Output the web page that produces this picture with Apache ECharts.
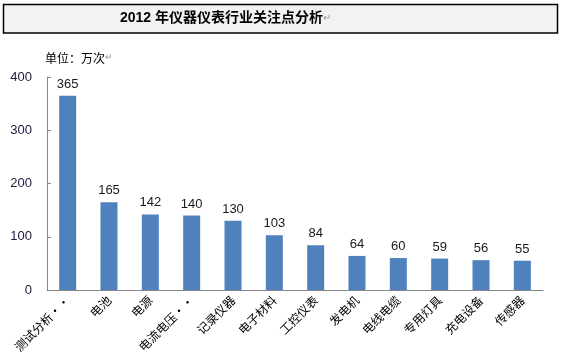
<!DOCTYPE html>
<html><head><meta charset="utf-8">
<script src="https://cdn.jsdelivr.net/npm/echarts@6/dist/echarts.min.js"></script>
<style>html,body{margin:0;padding:0;background:#fff}#c{width:562px;height:357px}</style>
</head><body><div id="c"></div>
<script>
const categories = ['测试分析··','电池','电源','电流电压··','记录仪器','电子材料','工控仪表','发电机','电线电缆','专用灯具','充电设备','传感器'];
const values = [365,165,142,140,130,103,84,64,60,59,56,55];
const yTicks = [0,100,200,300,400];

const chart = echarts.init(document.getElementById('c'));
chart.setOption({
  animation: false,
  textStyle: { fontFamily: '"Liberation Sans", Arial, "Noto Sans CJK SC", sans-serif' },
  graphic: [
    { type: 'rect', shape: { x: 3.5, y: 4.5, width: 554, height: 28.5 }, style: { fill: '#f2f2f2', stroke: '#000', lineWidth: 1.5 } },
    { type: 'text', left: 120, top: 11, style: { text: '{t|2012 年仪器仪表行业关注点分析}{r|↵}', rich: { t: { fontSize: 14, fontWeight: 'bold', fill: '#000', fontFamily: '"Liberation Sans", Arial, "Noto Sans CJK SC", sans-serif' }, r: { fontSize: 10, fill: '#999' } } } },
    { type: 'text', left: 45, top: 52, style: { text: '{t|单位：万次}{r|↵}', rich: { t: { fontSize: 12, fill: '#000', fontFamily: '"Noto Sans CJK SC", sans-serif' }, r: { fontSize: 9, fill: '#999' } } } }
  ],
  grid: { left: 47, right: 19, top: 77, bottom: 67, containLabel: false },
  xAxis: {
    type: 'category', data: categories,
    axisLine: { lineStyle: { color: '#868686', width: 1 } },
    axisTick: { inside: true, length: 4, lineStyle: { color: '#868686' } },
    axisLabel: { rotate: 45, fontSize: 12, color: '#000', margin: 8, interval: 0, fontFamily: '"Noto Sans CJK SC", sans-serif' }
  },
  yAxis: {
    type: 'value', min: 0, max: 400, interval: 100,
    splitLine: { show: false },
    axisLine: { show: true, lineStyle: { color: '#868686', width: 1 } },
    axisTick: { show: true, inside: true, length: 4, lineStyle: { color: '#868686' } },
    axisLabel: { fontSize: 13, color: '#1c1a3a', margin: 15, formatter: v => yTicks.includes(v) ? String(v) : '' }
  },
  series: [{
    type: 'bar', data: values, barWidth: 17,
    itemStyle: { color: '#4f81bd' },
    label: { show: true, position: 'top', distance: 5, fontSize: 13, color: '#1a1a1a' }
  }]
});
</script></body></html>
